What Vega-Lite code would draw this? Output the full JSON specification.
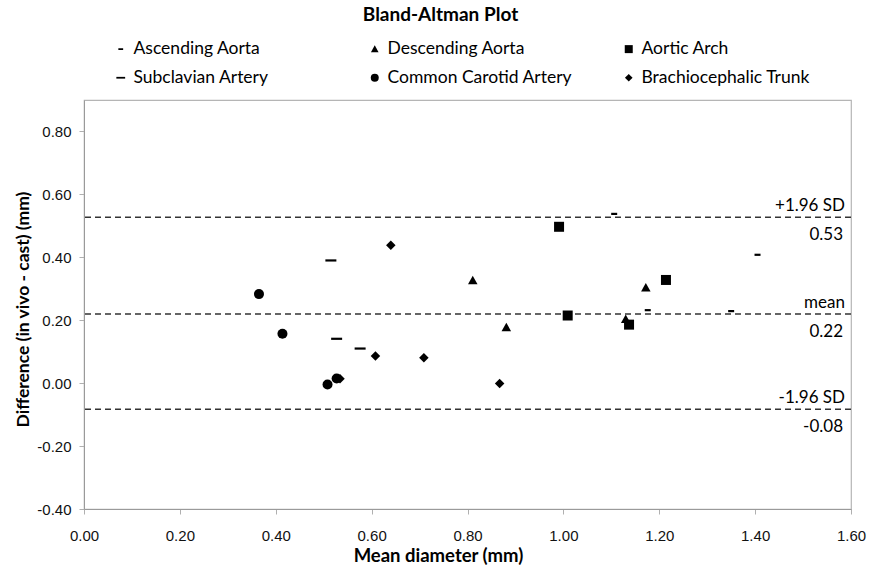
{
  "$schema": "https://vega.github.io/schema/vega-lite/v6.json",
  "width": 767,
  "height": 409,
  "autosize": {"type": "none"},
  "padding": {"left": 84, "top": 100, "right": 33, "bottom": 62},
  "background": "white",
  "title": {"text": "Bland-Altman Plot", "font": "Lato", "fontSize": 19, "fontWeight": "bold", "color": "#000", "anchor": "middle", "dx": -27, "offset": 15},
  "config": {
    "locale": {"number": {"decimal": ".", "thousands": ",", "grouping": [3], "currency": ["$", ""], "minus": "-"}},
    "view": {"stroke": "#b5b5b5", "strokeWidth": 1.2},
    "axis": {"grid": false, "labelFlush": false, "labelOverlap": false, "domainColor": "#9a9a9a", "tickColor": "#b0b0b0", "tickSize": 5, "labelFont": "Liberation Sans", "labelFontSize": 15, "labelColor": "#111", "titleFont": "Lato", "titleFontSize": 18.5, "titleFontWeight": "bold", "titleColor": "#000"},
    "legend": {"symbolFillColor": "#000", "symbolStrokeColor": "#000", "symbolStrokeWidth": 0, "labelFont": "Lato", "labelFontSize": 17.5, "labelColor": "#000", "labelLimit": 300}
  },
  "datasets": {
    "points": [
      {"mean": 1.106, "diff": 0.538, "site": "Ascending Aorta"},
      {"mean": 1.405, "diff": 0.408, "site": "Ascending Aorta"},
      {"mean": 1.176, "diff": 0.232, "site": "Ascending Aorta"},
      {"mean": 1.350, "diff": 0.229, "site": "Ascending Aorta"},
      {"mean": 0.811, "diff": 0.326, "site": "Descending Aorta"},
      {"mean": 0.881, "diff": 0.177, "site": "Descending Aorta"},
      {"mean": 1.172, "diff": 0.303, "site": "Descending Aorta"},
      {"mean": 1.130, "diff": 0.203, "site": "Descending Aorta"},
      {"mean": 0.991, "diff": 0.497, "site": "Aortic Arch"},
      {"mean": 1.009, "diff": 0.215, "site": "Aortic Arch"},
      {"mean": 1.214, "diff": 0.328, "site": "Aortic Arch"},
      {"mean": 1.137, "diff": 0.186, "site": "Aortic Arch"},
      {"mean": 0.515, "diff": 0.390, "site": "Subclavian Artery"},
      {"mean": 0.527, "diff": 0.141, "site": "Subclavian Artery"},
      {"mean": 0.576, "diff": 0.110, "site": "Subclavian Artery"},
      {"mean": 0.534, "diff": 0.014, "site": "Brachiocephalic Trunk"},
      {"mean": 0.640, "diff": 0.438, "site": "Brachiocephalic Trunk"},
      {"mean": 0.608, "diff": 0.086, "site": "Brachiocephalic Trunk"},
      {"mean": 0.709, "diff": 0.081, "site": "Brachiocephalic Trunk"},
      {"mean": 0.867, "diff": -0.001, "site": "Brachiocephalic Trunk"},
      {"mean": 0.365, "diff": 0.283, "site": "Common Carotid Artery"},
      {"mean": 0.414, "diff": 0.157, "site": "Common Carotid Artery"},
      {"mean": 0.508, "diff": -0.004, "site": "Common Carotid Artery"},
      {"mean": 0.527, "diff": 0.015, "site": "Common Carotid Artery"}
    ],
    "lines": [
      {"value": 0.527, "upper": "+1.96 SD", "lower": "0.53", "xpos": 1.6},
      {"value": 0.22, "upper": "mean", "lower": "0.22", "xpos": 1.6},
      {"value": -0.083, "upper": "-1.96 SD", "lower": "-0.08", "xpos": 1.6}
    ]
  },
  "layer": [
    {
      "data": {"name": "lines"},
      "mark": {"type": "rule", "color": "#333", "strokeWidth": 1.5, "strokeDash": [6, 4]},
      "encoding": {
        "y": {"field": "value", "type": "quantitative", "scale": {"domain": [-0.4, 0.9], "nice": false, "zero": false}}
      }
    },
    {
      "data": {"name": "lines"},
      "mark": {"type": "text", "align": "right", "baseline": "alphabetic", "dx": -6, "dy": -6, "font": "Lato", "fontSize": 17, "color": "#000"},
      "encoding": {
        "x": {"field": "xpos", "type": "quantitative"},
        "y": {"field": "value", "type": "quantitative"},
        "text": {"field": "upper"}
      }
    },
    {
      "data": {"name": "lines"},
      "mark": {"type": "text", "align": "right", "baseline": "alphabetic", "dx": -8, "dy": 23, "font": "Lato", "fontSize": 17, "color": "#000"},
      "encoding": {
        "x": {"field": "xpos", "type": "quantitative"},
        "y": {"field": "value", "type": "quantitative"},
        "text": {"field": "lower"}
      }
    },
    {
      "data": {"name": "points"},
      "mark": {"type": "point", "filled": true, "size": 100, "color": "#000", "opacity": 1, "strokeWidth": 0},
      "encoding": {
        "x": {"field": "mean", "type": "quantitative", "scale": {"domain": [0, 1.6], "nice": false, "zero": false},
          "axis": {"title": "Mean diameter (mm)", "values": [0, 0.2, 0.4, 0.6, 0.8, 1.0, 1.2, 1.4, 1.6], "format": ".2f", "labelPadding": 14, "titleX": 354, "titleY": 52, "titleBaseline": "alphabetic"}},
        "y": {"field": "diff", "type": "quantitative",
          "axis": {"title": "Difference (in vivo - cast) (mm)", "values": [-0.4, -0.2, 0, 0.2, 0.4, 0.6, 0.8], "format": ".2f", "labelPadding": 8, "titleX": -56, "titleY": 209, "titleBaseline": "alphabetic", "titleFontSize": 17.5}},
        "shape": {"field": "site", "type": "nominal",
          "scale": {
            "domain": ["Ascending Aorta", "Subclavian Artery", "Descending Aorta", "Common Carotid Artery", "Aortic Arch", "Brachiocephalic Trunk"],
            "range": ["M-0.6,-0.22H0.6V0.22H-0.6Z", "M-1.1,-0.22H1.1V0.22H-1.1Z", "M0,-0.95L0.95,0.75H-0.95Z", "circle", "M-1,-1H1V1H-1Z", "M0,-0.95L0.95,0L0,0.95L-0.95,0Z"]
          },
          "legend": {"title": null, "orient": "none", "legendX": 28, "legendY": -60, "columns": 3, "gridAlign": "all", "columnPadding": 47, "rowPadding": 10, "symbolSize": 64, "labelOffset": 4}
        }
      }
    }
  ]
}
